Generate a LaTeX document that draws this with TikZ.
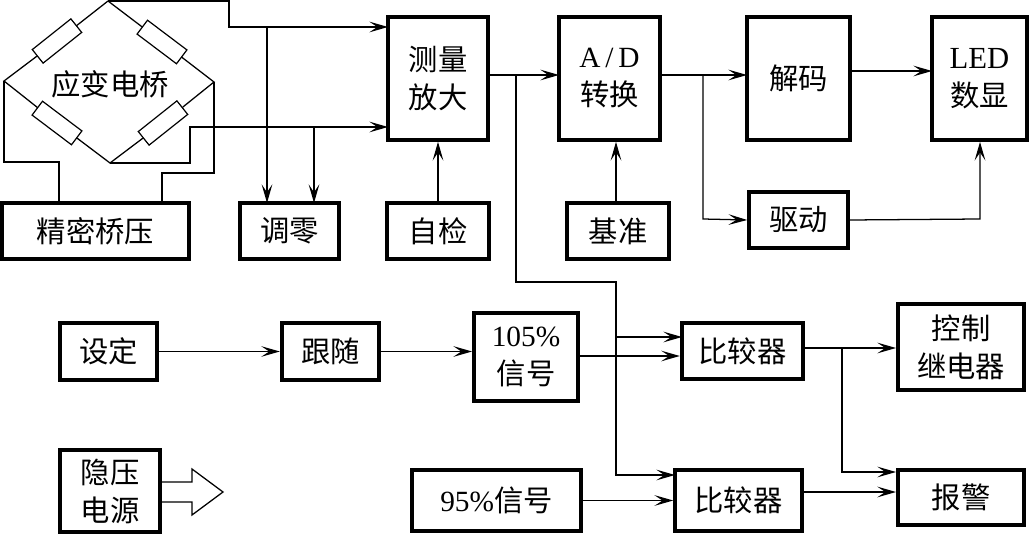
\documentclass[tikz,border=0pt]{standalone}
\usepackage{fontspec}
\setmainfont{Liberation Serif}
\newfontfamily\cjk{Noto Sans CJK SC}
\usetikzlibrary{arrows.meta}
\tikzset{
  box/.style={draw, line width=3pt, inner sep=0pt, align=center, font=\fontsize{22}{28.5}\selectfont\cjk},
  res/.style={draw, line width=.9pt, inner sep=0pt, minimum width=37pt, minimum height=13pt},
  wire/.style={line width=.95pt},
  sig/.style={wire, -{Stealth[length=14pt, width=8pt, inset=6pt]}},
}
\newcommand{\lat}[1]{{\rmfamily #1}}
\begin{document}
\begin{tikzpicture}[x=.75pt, y=-.75pt]
\useasboundingbox (0,0) rectangle (1034,534);

% upper row
\node[box, minimum width=75pt, minimum height=92pt] (amp) at (438,78.5) {测量\\放大};
\node[box, minimum width=76pt, minimum height=92pt] (adc) at (609.5,78.5) {\lat{A\,/\,D}\\转换};
\node[box, minimum width=77pt, minimum height=92pt] (dec) at (798.5,78.5) {\raisebox{2.5pt}{解码}};
\node[box, minimum width=71pt, minimum height=92pt] (led) at (979.5,78.5) {\lat{\fontsize{23}{28.5}\selectfont LED}\\数显};
\node[box, minimum width=74pt, minimum height=42pt] (drv) at (798.5,220) {驱动};
\node[box, minimum width=140pt, minimum height=42pt] (prec) at (95.5,231) {精密桥压};
\node[box, minimum width=74pt, minimum height=42pt] (zero) at (289.5,231) {调零};
\node[box, minimum width=76pt, minimum height=42pt] (chk) at (438,231) {自检};
\node[box, minimum width=76pt, minimum height=42pt] (refv) at (618,231) {基准};

% lower rows
\node[box, minimum width=73pt, minimum height=43pt] (setv) at (108.5,351.5) {设定};
\node[box, minimum width=73pt, minimum height=43pt] (fol) at (330.5,351.5) {跟随};
\node[box, minimum width=78pt, minimum height=66pt] (hi) at (526,357) {\lat{105\%}\\信号};
\node[box, minimum width=91pt, minimum height=42pt] (cmpa) at (742.5,351) {比较器};
\node[box, minimum width=94.5pt, minimum height=64.5pt] (ctrl) at (961,347) {控制\\继电器};
\node[box, minimum width=75pt, minimum height=61.5pt] (pow) at (110,491) {隐压\\电源};
\node[box, minimum width=127pt, minimum height=46pt] (lo) at (496.5,500.5) {\lat{95\%}信号};
\node[box, minimum width=95pt, minimum height=46pt] (cmpb) at (738.5,500.5) {比较器};
\node[box, minimum width=94.5pt, minimum height=41pt] (alarm) at (961,497.5) {报警};

% bridge
\coordinate (top) at (108,1);
\coordinate (lft) at (4,81);
\coordinate (rgt) at (214,82);
\coordinate (bot) at (110,163);
\node[res, rotate=38.5] (rtl) at (57,41) {};
\node[res, rotate=-37] (rtr) at (162,42) {};
\node[res, rotate=-37] (rbl) at (57,123) {};
\node[res, rotate=38.5] (rbr) at (163,123) {};
\node[font=\fontsize{22}{26}\selectfont\cjk] (brg) at (110,84) {应变电桥};
\draw[wire] (top)--(rtl)--(lft)--(rbl)--(bot)--(rbr)--(rgt)--(rtr)--(top);

% bridge outputs and supply
\coordinate (inup) at (388,27);
\coordinate (inlow) at (388,127);
\coordinate (zeroa) at (267,203);
\coordinate (zerob) at (314,203);
\draw[sig] (top)--(229,1)--(229,27)--(inup);
\draw[sig] (bot)--(190,163)--(190,127)--(inlow);
\draw[sig] (zeroa|-inup)--(zeroa);
\draw[sig] (zerob|-inlow)--(zerob);
\draw[wire] (lft)--(4,162)--(59,162)--(59,203);
\draw[wire] (rgt)--(214,173)--(162,173)--(162,203);

% signal path
\coordinate (adin) at (559,75);
\coordinate (adout) at (660,75);
\coordinate (decin) at (747,75);
\draw[sig] (488,75)--(adin);
\draw[sig] (adout)--(decin);
\draw[sig] (850,71)--(932,71);
\draw[sig] (703,75)--(703,219)--(drv.west);
\draw[sig] (drv.east)--(980,219)--(led.south-|980,0);
\draw[sig] (chk.north)--(amp.south);
\draw[sig] (616,203)--(adc.south-|616,0);

% comparators
\coordinate (cain) at (682,337);
\coordinate (cbin) at (675,475);
\draw[sig] (516,75)--(516,282)--(616,282)--(616,475)--(cbin);
\draw[sig] (616,337)--(cain);
\draw[sig] (hi.east|-0,356)--(cmpa.west|-0,356);
\draw[sig] (setv.east)--(fol.west);
\draw[sig] (fol.east)--(hi.west|-fol.east);
\draw[sig] (cmpa.east|-0,348)--(ctrl.west|-0,348);
\draw[sig] (842,348)--(842,472)--(alarm.west|-0,472);
\draw[sig] (lo.east)--(cmpb.west);
\draw[sig, line width=1.6pt] (cmpb.east|-0,492)--(alarm.west|-0,492);

% output arrow of the supply
\draw[wire] (pow.east|-0,482)--(192,482)--(192,469)--(223,492)--(192,515)--(192,502)--(pow.east|-0,502);
\end{tikzpicture}
\end{document}
